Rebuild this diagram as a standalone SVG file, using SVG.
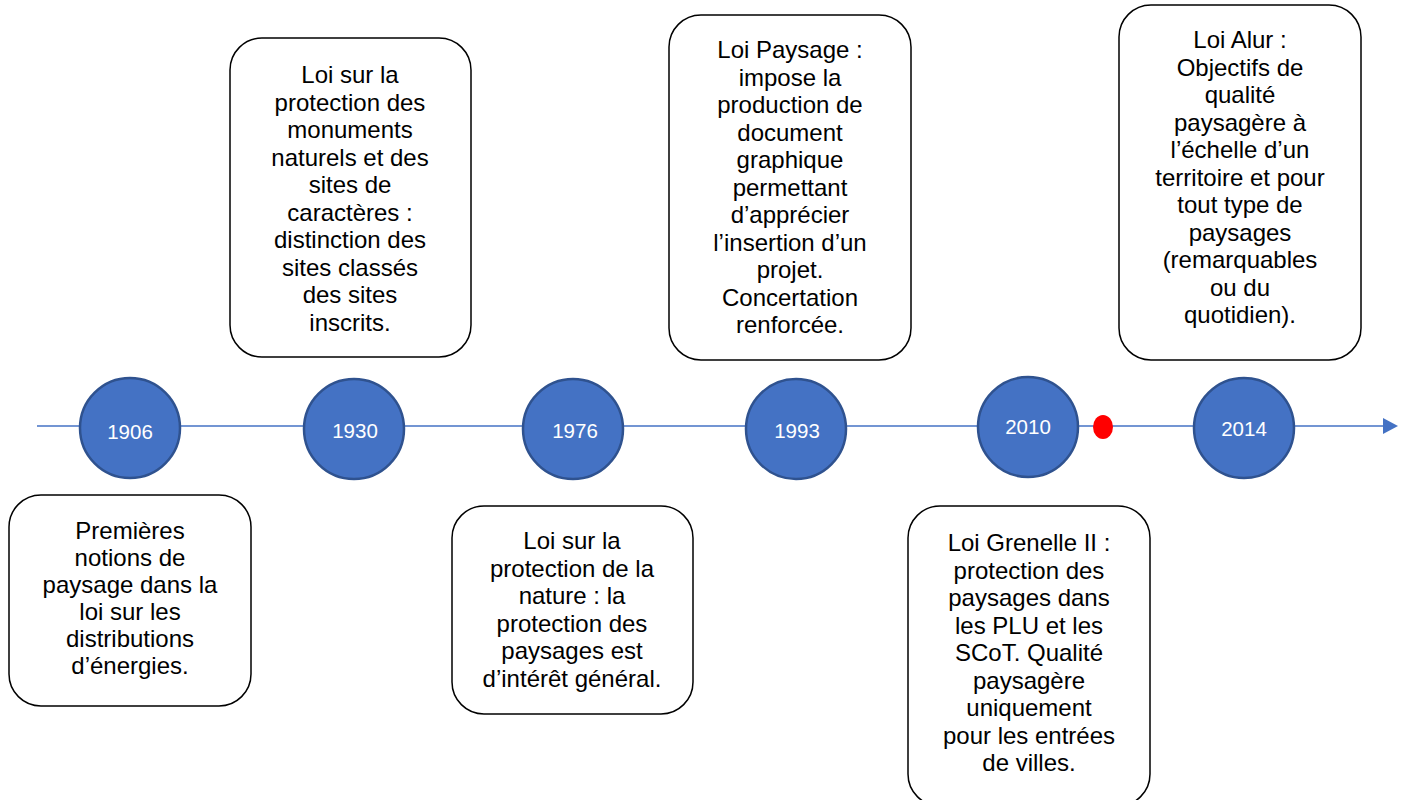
<svg xmlns="http://www.w3.org/2000/svg" width="1408" height="800" viewBox="0 0 1408 800">
<style>
.box{fill:#fff;stroke:#000;stroke-width:1.5}
.bt{font-family:"Liberation Sans",Arial,sans-serif;font-size:24px;fill:#000;text-anchor:middle}
.yr{fill:#4472C4;stroke:#2F528F;stroke-width:2.5}
.yt{font-family:"Liberation Sans",Arial,sans-serif;font-size:20.5px;fill:#fff;text-anchor:middle}
</style>
<rect width="1408" height="800" fill="#fff"/>
<g id="connectors">
<line x1="37" y1="426" x2="1386" y2="426" stroke="#4472C4" stroke-width="1.5"/>
<polygon points="1383,418 1398,426 1383,434" fill="#4472C4"/>
</g>
<g id="box1906">
<rect class="box" x="9" y="495" width="242" height="211" rx="32"/>
<text class="bt"><tspan x="130" y="539">Premières</tspan><tspan x="130" y="566">notions de</tspan><tspan x="130" y="593">paysage dans la</tspan><tspan x="130" y="620">loi sur les</tspan><tspan x="130" y="647">distributions</tspan><tspan x="130" y="674">d’énergies.</tspan></text>
</g>
<g id="box1930">
<rect class="box" x="230" y="38" width="241" height="319" rx="32"/>
<text class="bt"><tspan x="350" y="83">Loi sur la</tspan><tspan x="350" y="110.5">protection des</tspan><tspan x="350" y="138">monuments</tspan><tspan x="350" y="165.5">naturels et des</tspan><tspan x="350" y="193">sites de</tspan><tspan x="350" y="220.5">caractères :</tspan><tspan x="350" y="248">distinction des</tspan><tspan x="350" y="275.5">sites classés</tspan><tspan x="350" y="303">des sites</tspan><tspan x="350" y="330.5">inscrits.</tspan></text>
</g>
<g id="box1976">
<rect class="box" x="452" y="506" width="241" height="208" rx="32"/>
<text class="bt"><tspan x="572" y="549">Loi sur la</tspan><tspan x="572" y="576.5">protection de la</tspan><tspan x="572" y="604">nature : la</tspan><tspan x="572" y="631.5">protection des</tspan><tspan x="572" y="659">paysages est</tspan><tspan x="572" y="686.5">d’intérêt général.</tspan></text>
</g>
<g id="box1993">
<rect class="box" x="669" y="15" width="242" height="345" rx="32"/>
<text class="bt"><tspan x="790" y="58">Loi Paysage :</tspan><tspan x="790" y="85.5">impose la</tspan><tspan x="790" y="113">production de</tspan><tspan x="790" y="140.5">document</tspan><tspan x="790" y="168">graphique</tspan><tspan x="790" y="195.5">permettant</tspan><tspan x="790" y="223">d’apprécier</tspan><tspan x="790" y="250.5">l’insertion d’un</tspan><tspan x="790" y="278">projet.</tspan><tspan x="790" y="305.5">Concertation</tspan><tspan x="790" y="333">renforcée.</tspan></text>
</g>
<g id="box2010">
<rect class="box" x="908" y="506" width="242" height="300" rx="32"/>
<text class="bt"><tspan x="1029" y="551">Loi Grenelle II :</tspan><tspan x="1029" y="578.5">protection des</tspan><tspan x="1029" y="606">paysages dans</tspan><tspan x="1029" y="633.5">les PLU et les</tspan><tspan x="1029" y="661">SCoT. Qualité</tspan><tspan x="1029" y="688.5">paysagère</tspan><tspan x="1029" y="716">uniquement</tspan><tspan x="1029" y="743.5">pour les entrées</tspan><tspan x="1029" y="771">de villes.</tspan></text>
</g>
<g id="box2014">
<rect class="box" x="1119" y="5" width="242" height="355" rx="32"/>
<text class="bt"><tspan x="1240" y="48">Loi Alur :</tspan><tspan x="1240" y="75.5">Objectifs de</tspan><tspan x="1240" y="103">qualité</tspan><tspan x="1240" y="130.5">paysagère à</tspan><tspan x="1240" y="158">l’échelle d’un</tspan><tspan x="1240" y="185.5">territoire et pour</tspan><tspan x="1240" y="213">tout type de</tspan><tspan x="1240" y="240.5">paysages</tspan><tspan x="1240" y="268">(remarquables</tspan><tspan x="1240" y="295.5">ou du</tspan><tspan x="1240" y="323">quotidien).</tspan></text>
</g>
<g id="y1906"><circle class="yr" cx="130" cy="428" r="50"/><text class="yt" x="130" y="439">1906</text></g>
<g id="y1930"><circle class="yr" cx="354" cy="429" r="50"/><text class="yt" x="355" y="438">1930</text></g>
<g id="y1976"><circle class="yr" cx="573" cy="429" r="50"/><text class="yt" x="575" y="438">1976</text></g>
<g id="y1993"><circle class="yr" cx="796" cy="429" r="50"/><text class="yt" x="797" y="438">1993</text></g>
<g id="y2010"><circle class="yr" cx="1028" cy="427" r="50"/><text class="yt" x="1028" y="434">2010</text></g>
<g id="marker-red"><ellipse cx="1103" cy="427" rx="10" ry="12" fill="#FF0000"/></g>
<g id="y2014"><circle class="yr" cx="1244" cy="428" r="50"/><text class="yt" x="1244" y="436">2014</text></g>
</svg>
